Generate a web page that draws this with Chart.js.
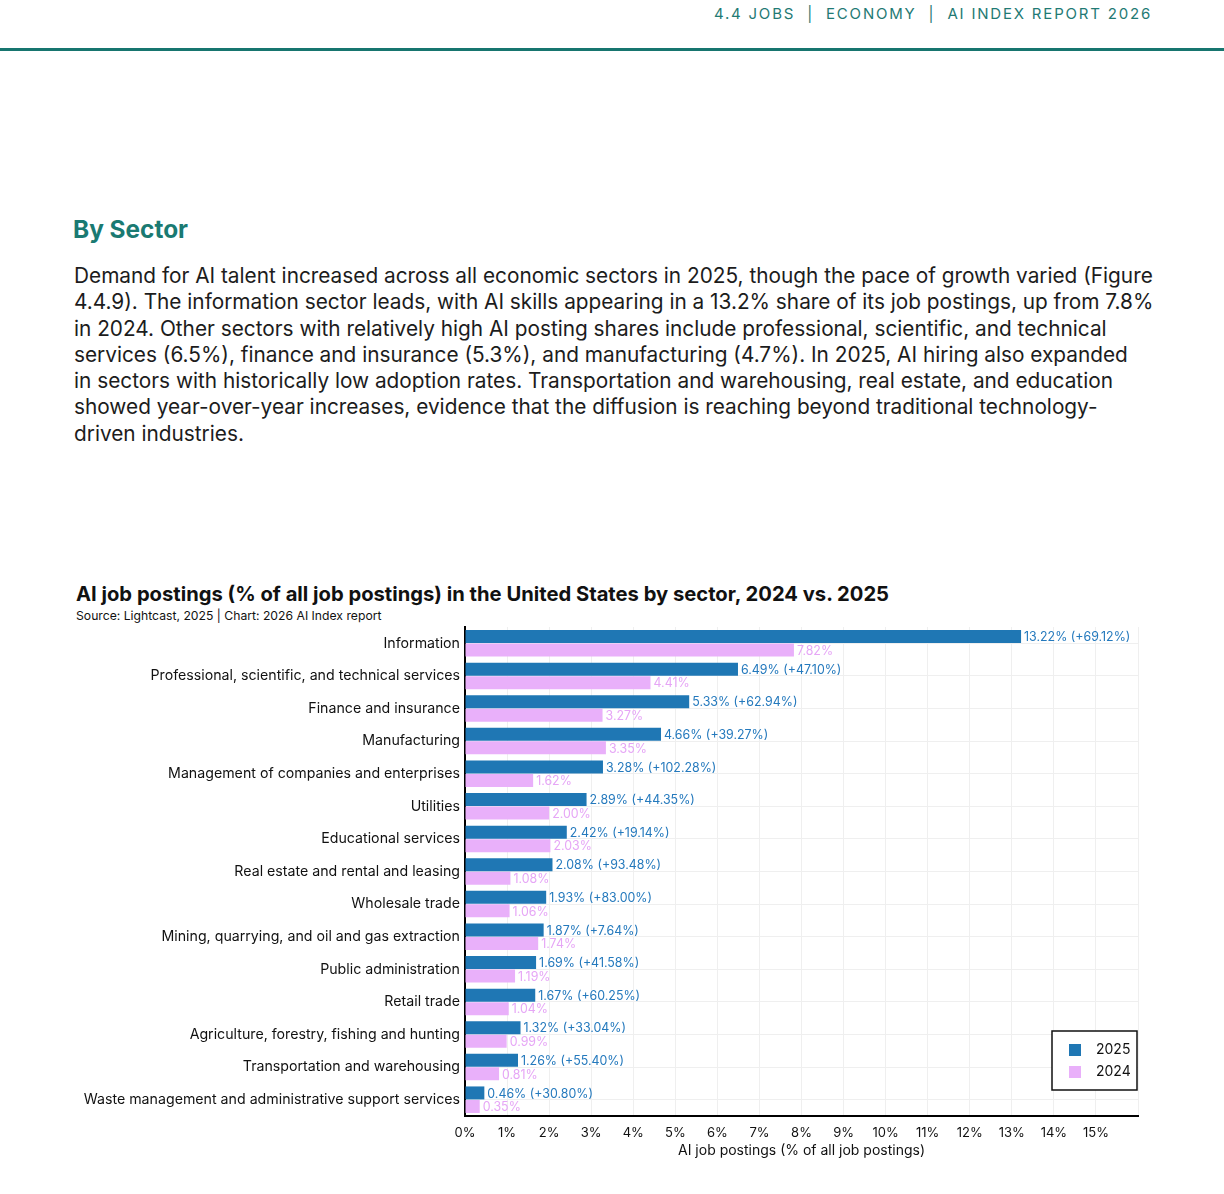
<!DOCTYPE html>
<html>
<head>
<meta charset="utf-8">
<title>AI job postings by sector</title>
<script src="https://cdn.jsdelivr.net/npm/chart.js@4.4.1/dist/chart.umd.min.js"></script>
<style>
  body { margin: 0; width: 1224px; height: 1194px; position: relative; background: #fff; overflow: hidden;
         font-family: Inter, "Noto Sans", sans-serif; }
  .header { position: absolute; right: 72px; top: 4px; font-size: 15px; letter-spacing: 1.8px; color: #1f7a74; white-space: nowrap; }
  .rule { position: absolute; left: 0; top: 48px; width: 1224px; height: 3px; background: #17756f; }
  h2 { position: absolute; left: 73px; top: 214px; margin: 0; font-size: 24.4px; font-weight: 700; color: #1a7a72; }
  .para { position: absolute; left: 74px; top: 263px; font-size: 20.8px; line-height: 26.3px; color: #1c1c1c; }
  .para div { white-space: nowrap; }
  .ctitle { position: absolute; left: 76px; top: 581px; font-size: 20.2px; font-weight: 700; color: #111; white-space: nowrap; }
  .csrc { position: absolute; left: 76px; top: 608px; font-size: 12.2px; color: #111; white-space: nowrap; }
  #wrap { position: absolute; left: 0; top: 620px; width: 1160px; height: 560px; }
</style>
</head>
<body>
<div class="header">4.4 JOBS &nbsp;|&nbsp; ECONOMY &nbsp;|&nbsp; AI INDEX REPORT 2026</div>
<div class="rule"></div>
<h2>By Sector</h2>
<div class="para">
  <div>Demand for AI talent increased across all economic sectors in 2025, though the pace of growth varied (Figure</div>
  <div>4.4.9). The information sector leads, with AI skills appearing in a 13.2% share of its job postings, up from 7.8%</div>
  <div>in 2024. Other sectors with relatively high AI posting shares include professional, scientific, and technical</div>
  <div>services (6.5%), finance and insurance (5.3%), and manufacturing (4.7%). In 2025, AI hiring also expanded</div>
  <div>in sectors with historically low adoption rates. Transportation and warehousing, real estate, and education</div>
  <div>showed year-over-year increases, evidence that the diffusion is reaching beyond traditional technology-</div>
  <div>driven industries.</div>
</div>
<div class="ctitle">AI job postings (% of all job postings) in the United States by sector, 2024 vs. 2025</div>
<div class="csrc">Source: Lightcast, 2025 | Chart: 2026 AI Index report</div>
<div id="wrap"><canvas id="chart"></canvas></div>

<script>
// Sectors, top to bottom
const sectors = [
  'Information',
  'Professional, scientific, and technical services',
  'Finance and insurance',
  'Manufacturing',
  'Management of companies and enterprises',
  'Utilities',
  'Educational services',
  'Real estate and rental and leasing',
  'Wholesale trade',
  'Mining, quarrying, and oil and gas extraction',
  'Public administration',
  'Retail trade',
  'Agriculture, forestry, fishing and hunting',
  'Transportation and warehousing',
  'Waste management and administrative support services'
];

// AI job postings share (%)
const share2025 = [13.22, 6.49, 5.33, 4.66, 3.28, 2.89, 2.42, 2.08, 1.93, 1.87, 1.69, 1.67, 1.32, 1.26, 0.46];
const share2024 = [7.82, 4.41, 3.27, 3.35, 1.62, 2.00, 2.03, 1.08, 1.06, 1.74, 1.19, 1.04, 0.99, 0.81, 0.35];

// Year-over-year change shown next to the 2025 bars (%)
const change = [69.12, 47.10, 62.94, 39.27, 102.28, 44.35, 19.14, 93.48, 83.00, 7.64, 41.58, 60.25, 33.04, 55.40, 30.80];

const xMax = 16;
const blue = '#1f77b4';
const pink = '#e9b0fa';
const font = 'Inter, "Noto Sans", sans-serif';

// Draw the value text at the end of each bar
const valueLabels = {
  id: 'valueLabels',
  afterDatasetsDraw(chart) {
    const ctx = chart.ctx;
    ctx.save();
    ctx.font = '12.4px ' + font;
    ctx.textBaseline = 'middle';
    ctx.textAlign = 'left';
    chart.data.datasets.forEach((ds, di) => {
      const meta = chart.getDatasetMeta(di);
      meta.data.forEach((bar, i) => {
        let txt;
        if (di === 0) {
          txt = share2025[i].toFixed(2) + '% (+' + change[i].toFixed(2) + '%)';
          ctx.fillStyle = '#2479bd';
        } else {
          txt = share2024[i].toFixed(2) + '%';
          ctx.fillStyle = '#e6a6f6';
        }
        ctx.fillText(txt, bar.x + 3, bar.y + 1);
      });
    });
    ctx.restore();
  }
};

// Boxed legend in the lower right of the plot
const boxLegend = {
  id: 'boxLegend',
  afterDraw(chart) {
    const ctx = chart.ctx;
    const area = chart.chartArea;
    const w = 85, h = 59;
    const x = area.right - w - 1;
    const y = area.bottom - 26 - h;
    ctx.save();
    ctx.fillStyle = '#fff';
    ctx.fillRect(x, y, w, h);
    ctx.strokeStyle = '#111';
    ctx.lineWidth = 1.5;
    ctx.strokeRect(x, y, w, h);
    ctx.font = '14px ' + font;
    ctx.textBaseline = 'middle';
    chart.data.datasets.forEach((ds, i) => {
      const cy = y + 19 + i * 22;
      ctx.fillStyle = ds.backgroundColor;
      ctx.fillRect(x + 17, cy - 6, 12, 12);
      ctx.fillStyle = '#111';
      ctx.fillText(ds.label, x + 44, cy);
    });
    ctx.restore();
  }
};

new Chart(document.getElementById('chart'), {
  type: 'bar',
  data: {
    labels: sectors,
    datasets: [
      { label: '2025', data: share2025, backgroundColor: blue, borderWidth: 0,
        categoryPercentage: 0.83, barPercentage: 0.96 },
      { label: '2024', data: share2024, backgroundColor: pink, borderWidth: 0,
        categoryPercentage: 0.83, barPercentage: 0.96 }
    ]
  },
  options: {
    indexAxis: 'y',
    responsive: true,
    maintainAspectRatio: false,
    animation: false,
    layout: { padding: { top: 7, right: 22, bottom: 17, left: 0 } },
    plugins: {
      legend: { display: false },
      tooltip: { enabled: false }
    },
    scales: {
      x: {
        min: 0,
        max: xMax,
        grid: { color: '#efefef', drawTicks: false },
        border: { color: '#000', width: 2 },
        ticks: {
          stepSize: 1,
          padding: 9,
          color: '#111',
          font: { size: 13, family: font },
          callback: v => (v === xMax ? '' : v + '%')
        },
        title: {
          display: true,
          text: 'AI job postings (% of all job postings)',
          color: '#111',
          font: { size: 14, family: font },
          padding: { top: 0 }
        },
        afterFit: s => { s.height = 47; s.paddingRight = 0; }
      },
      y: {
        grid: { color: '#efefef', drawTicks: false, offset: false },
        border: { color: '#000', width: 2 },
        ticks: {
          color: '#111',
          padding: 5,
          font: { size: 14.2, family: font }
        },
        afterFit: s => { s.width = 465; s.paddingTop = 0; s.paddingBottom = 0; }
      }
    }
  },
  plugins: [valueLabels, boxLegend]
});
</script>
</body>
</html>
